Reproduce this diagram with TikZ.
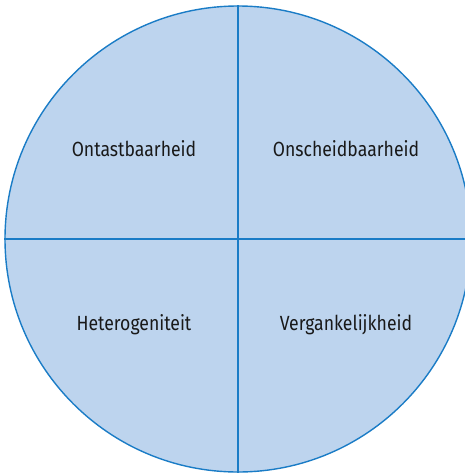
\documentclass[tikz,border=0pt]{standalone}
\usepackage{fontspec}
\setmainfont{Fira Sans}[FakeStretch=0.86]
\usetikzlibrary{positioning}
\definecolor{wheelfill}{HTML}{BDD4EE}
\definecolor{wheelline}{HTML}{1A7CC6}

\begin{document}
\begin{tikzpicture}[
    x=1pt, y=-1pt,
    wheel/.style={
        circle,
        draw=wheelline,
        fill=wheelfill,
        line width=1.4pt,
        inner sep=0pt,
        minimum size=466pt
    },
    quadrant/.style={
        font=\fontsize{20.5}{24}\selectfont,
        text=black!90,
        inner sep=0pt
    },
    divider/.style={draw=wheelline, line width=1.4pt}
]

% Frame
\useasboundingbox (0,0) rectangle (465,475);
\clip (0,0) rectangle (465,475);

% Circle
\node[wheel] (wheel) at (238,239) {};

% Dividers
\draw[divider] (wheel.north) -- (wheel.south);
\draw[divider] (wheel.west) -- (wheel.east);

% Labels
\node[quadrant] (ontast) at (134,149) {Ontastbaarheid};
\node[quadrant] (onscheid) at (346,149) {Onscheidbaarheid};
\node[quadrant] (hetero) at (134,325) {Heterogeniteit};
\node[quadrant] (vergank) at (346,325) {Vergankelijkheid};

\end{tikzpicture}
\end{document}
